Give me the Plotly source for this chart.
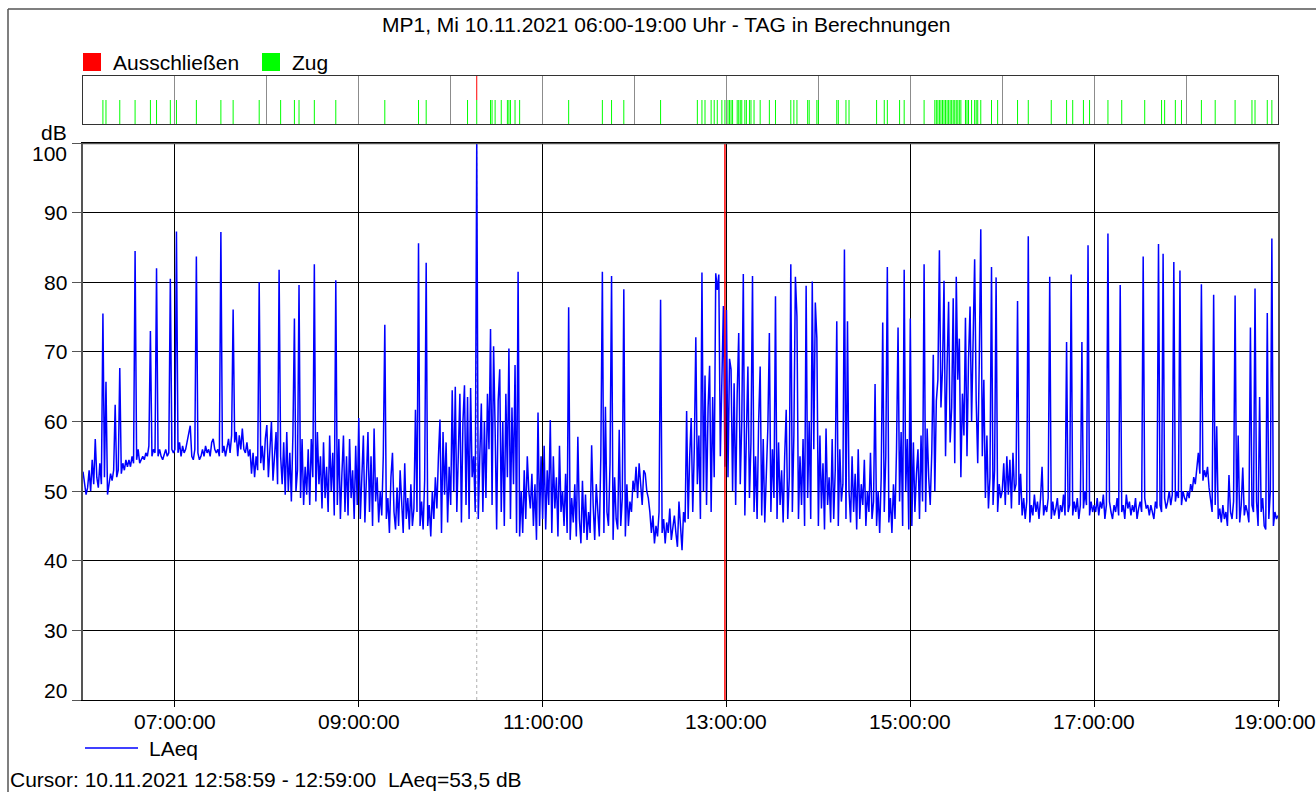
import pandas as pd
import plotly.graph_objects as go

FONT = "Liberation Sans, Arial, sans-serif"
title_text = "MP1, Mi 10.11.2021 06:00-19:00 Uhr - TAG in Berechnungen"
cursor_text = "Cursor: 10.11.2021 12:58:59 - 12:59:00  LAeq=53,5 dB"
start = "2021-11-10 06:00"
end = "2021-11-10 19:00"

# LAeq per minute, one list per hour (dB)
h06 = [52.8, 51, 49.5, 50.5, 53, 50, 54.5, 51, 57.5, 52,
       50.5, 54, 51, 75.5, 52, 65.7, 49.5, 51, 52.5, 51.5,
       53, 62.4, 52, 53, 67.7, 52.5, 54, 53, 54.5, 53.5,
       54.5, 53.5, 55, 54, 84.5, 54.5, 56, 54, 54.5, 55,
       54.5, 55.5, 55, 56.5, 73, 55, 56, 55.5, 82, 55,
       56, 55, 54.5, 55.5, 56, 55, 55.5, 80.5, 56, 55.5]
h07 = [56, 87.3, 55.5, 57, 55, 56.5, 55.5, 56, 57, 58,
       59.4, 55, 54.5, 56, 83.7, 55.5, 54.5, 55, 56, 55,
       56.5, 55.5, 56, 55, 57, 57.5, 56, 55.5, 56, 55,
       87.2, 55.5, 56.5, 55, 56, 57.5, 55.5, 58, 76.1, 57,
       58.5, 55, 58, 56, 59, 56, 55.5, 57, 55, 56,
       52.5, 55.5, 52, 55, 53, 80, 54, 56.5, 53, 57.5]
h08 = [59.5, 52, 56, 60, 51.5, 55, 58.5, 51, 81.8, 55,
       51, 57, 49.5, 58.5, 50, 55.5, 48.5, 58, 74.8, 50,
       53, 79.6, 49, 57.5, 48, 53.5, 49.5, 56, 48, 57.5,
       52, 82.6, 48.5, 58.5, 51, 55, 47.5, 57, 49, 53.5,
       47, 58, 50, 55.5, 46.5, 80.3, 48, 57.5, 46, 52.5,
       58, 47, 55, 46.5, 57.5, 49, 53, 46, 56.5, 48]
h09 = [60.5, 46, 53, 58, 45.5, 51, 58.5, 47, 55, 45,
       59, 48.5, 52, 45.5, 50, 46.5, 55, 73.9, 46, 49,
       44, 52, 55.5, 47, 44.5, 50.5, 45, 53, 48, 44,
       54, 46, 49, 44.5, 51, 45, 47.5, 61.7, 47, 85.6,
       45, 48.5, 44.5, 51.5, 82.8, 45, 48, 43.5, 50, 46,
       52, 47.5, 55, 60.3, 44, 58.5, 49.5, 57, 45.5, 53.5]
h10 = [48, 64.5, 50, 65, 47, 58, 64, 45.5, 60, 65.2,
       48, 63.5, 46, 64.8, 52, 55, 47, 100, 46, 55,
       62.6, 47, 60, 49, 64, 56, 73.3, 48, 70.8, 59,
       44.5, 63, 67.5, 47, 60, 45, 64, 52, 70.5, 46,
       62, 51, 68.1, 44, 81.5, 43.5, 50, 44, 53, 46,
       55, 50, 47.5, 52.5, 45, 51, 43, 61.3, 45, 55]
h11 = [46, 56.5, 44.5, 53, 48, 60.2, 44, 55, 47.5, 52,
       43.5, 56.5, 47, 50, 45, 52.5, 44, 76.4, 43, 49,
       45.5, 51, 43.5, 57.8, 46, 42.5, 51.5, 44, 49.5, 43,
       47, 44, 56.6, 48, 43, 51, 47, 43.5, 55, 81.5,
       44, 62.1, 47, 45, 54, 80.9, 43, 52, 46, 44.5,
       58.8, 45, 49, 79, 43.5, 51, 45, 48.5, 47, 51.5]
h12 = [50, 53.5, 49, 54, 51, 48, 53, 52.5, 50, 49,
       47, 44, 46.5, 42.5, 45, 43.5, 47, 77.5, 44, 46,
       42.5, 45.5, 44, 47.5, 43, 45, 46.5, 44, 42, 48.5,
       45, 41.5, 47, 45.5, 61.5, 46, 55, 60.5, 47, 56,
       72.1, 51, 58, 46, 81.4, 50, 66.6, 48, 62, 68,
       47, 63.5, 52, 81.3, 78.9, 81.1, 55, 65, 76.6, 53.5]
h13 = [76, 52, 69, 67.5, 50, 65.5, 48, 64, 72.7, 51,
       60, 81.2, 46.5, 58, 67.9, 49, 57, 80.9, 47, 55,
       46, 60, 67.9, 46.5, 57.5, 45.5, 54, 59, 72.7, 47,
       56, 49, 78, 46, 57, 48, 53, 45.5, 55, 61.7,
       46, 52, 82.6, 47, 58, 80.8, 75.1, 46, 55, 48,
       57.5, 45, 79.5, 49, 60, 46, 80.1, 56, 77.1, 72]
h14 = [45, 58, 47.5, 54, 44.5, 59, 48, 52, 45.5, 57.5,
       46, 53, 74.4, 45, 56, 48.5, 51, 84.7, 46, 74.4,
       50, 45.5, 55, 47, 52.5, 44.5, 56, 46, 51, 48,
       54.5, 45, 50, 47, 55.5, 46, 48.5, 65.4, 45, 50,
       44, 52, 74.2, 47, 55, 82.2, 45.5, 49, 44, 51,
       46, 56, 73.5, 48.5, 58.5, 45, 81.8, 50, 57.5, 44.5]
h15 = [74.8, 45, 57, 47, 52.5, 56, 46, 58, 48.5, 82.6,
       47, 59, 52, 48, 55.5, 69.6, 50, 63, 66, 84.6,
       62, 67.5, 80.2, 55, 68, 77.2, 57, 62, 77.7, 54,
       80.8, 66, 71.9, 52, 64, 58, 74.9, 55, 69, 76.5,
       60, 72.9, 83.3, 63, 54, 68.5, 87.6, 55, 66, 49,
       58, 47.5, 52, 82.2, 48, 53, 80.7, 47, 51, 49]
h16 = [50, 54, 48, 55, 49.5, 54.5, 47.5, 55.5, 50, 51,
       77.3, 48, 52.5, 46.5, 49, 46, 48.5, 86.6, 45.5, 48,
       46.5, 49.5, 47, 48.5, 46, 49, 53.5, 46.5, 48, 47,
       49, 80.8, 46, 48.5, 46.5, 47.5, 49, 46, 48, 47,
       49.5, 46.5, 71.4, 47, 48, 81.1, 46.5, 48.5, 47, 49,
       46, 48, 71.4, 47.5, 50, 48, 85.3, 46.5, 48.5, 47]
h17 = [48, 47, 49, 46.5, 48.5, 47.5, 49.5, 46, 48, 87,
       48.5, 47, 46, 48, 47, 49, 46.5, 79.6, 47, 48,
       46, 49.5, 47.5, 48.5, 46.5, 48, 47, 49, 46, 47.5,
       48.5, 47, 83.7, 49, 47.5, 48, 46.5, 48, 47, 46,
       48.5, 47.5, 85.5, 48, 47, 84.1, 49, 47.5, 48.5, 50,
       48, 49.5, 82.9, 48.5, 50, 49, 81.7, 48, 50, 49]
h18 = [48.5, 50, 49, 51, 50, 52, 51, 53, 55.5, 52.5,
       79.7, 51.5, 53, 52, 53.5, 50.5, 49, 47, 78.2, 48,
       59.3, 46, 47.5, 45.5, 48, 46, 47, 45, 52.3, 47,
       46, 48.5, 78.1, 46, 58, 45.5, 48, 53.4, 46.5, 48,
       47, 45.5, 73.5, 48, 47, 79.1, 48.5, 45, 63.5, 47,
       49, 45, 44.5, 75.6, 46, 50, 86.3, 45, 47, 46]
h19 = [46.5]

# Events (minutes after 06:00)
zug_minutes = [13, 15, 24, 34, 44, 48, 57, 61, 74, 90, 98, 115, 129, 138, 141, 151, 165,
               197, 219, 224, 251, 257, 266, 267, 269, 273, 277, 278, 279, 282, 285, 317,
               339, 345, 353, 377, 401, 404, 406, 410, 412, 414, 417, 419, 421, 422, 423,
               424, 427, 428, 429, 430, 432, 433, 435, 436, 438, 442, 448, 452, 462, 464,
               466, 473, 474, 479, 480, 492, 493, 498, 500, 518, 523, 525, 533, 536, 549,
               556, 557, 558, 559, 560, 561, 562, 563, 564, 565, 566, 567, 568, 569, 570,
               571, 572, 573, 576, 577, 578, 580, 582, 583, 584, 586, 593, 597, 610, 617,
               632, 642, 646, 653, 657, 669, 678, 693, 704, 706, 713, 717, 730, 739, 752,
               763, 765, 773, 776]
excluded_minutes = [257]
cursor_minute = 419
y_ticks = [20, 30, 40, 50, 60, 70, 80, 90, 100]
x_tick_times = ["2021-11-10 07:00", "2021-11-10 09:00", "2021-11-10 11:00",
                "2021-11-10 13:00", "2021-11-10 15:00", "2021-11-10 17:00",
                "2021-11-10 19:00"]
x_tick_labels = ["07:00:00", "09:00:00", "11:00:00", "13:00:00", "15:00:00",
                 "17:00:00", "19:00:00"]

laeq = h06 + h07 + h08 + h09 + h10 + h11 + h12 + h13 + h14 + h15 + h16 + h17 + h18 + h19
t0 = pd.Timestamp(start)
times = pd.date_range(start, periods=len(laeq), freq="min")


def marks(mins, y0, y1):
    xs, ys = [], []
    for m in mins:
        t = t0 + pd.Timedelta(minutes=m)
        xs += [t, t, None]
        ys += [y0, y1, None]
    return xs, ys


fig = go.Figure()
fig.add_trace(go.Scatter(x=times, y=laeq, mode="lines", xaxis="x", yaxis="y",
                         line=dict(color="#0000FF", width=1.5), showlegend=False,
                         hoverinfo="skip"))
zx, zy = marks(zug_minutes, 0, 1)
fig.add_trace(go.Scatter(x=zx, y=zy, mode="lines", xaxis="x2", yaxis="y2",
                         line=dict(color="#00FF00", width=1), showlegend=False,
                         hoverinfo="skip"))
rx, ry = marks(excluded_minutes, 1, 2)
fig.add_trace(go.Scatter(x=rx, y=ry, mode="lines", xaxis="x2", yaxis="y2",
                         line=dict(color="#FF0000", width=1), showlegend=False,
                         hoverinfo="skip"))

L, R, T, B = 83, 38, 76, 92
W, H = 1316, 792
pw, ph = W - L - R, H - T - B


def px(xp):
    return (xp - L) / pw


def py(yp):
    return (H - B - yp) / ph


main_top = py(143)
strip_bot = py(124)

fig.update_layout(
    width=W, height=H, margin=dict(l=L, r=R, t=T, b=B, autoexpand=False),
    paper_bgcolor="white", plot_bgcolor="white",
    font=dict(family=FONT, size=21, color="black"),
    xaxis=dict(domain=[0, 1], anchor="y", type="date", range=[start, end],
               tickvals=x_tick_times, showticklabels=False,
               showgrid=True, gridcolor="black", gridwidth=1,
               ticks="outside", ticklen=6, tickcolor="black",
               showline=True, linecolor="black", linewidth=1, mirror=True,
               zeroline=False, automargin=False),
    yaxis=dict(domain=[0, main_top], anchor="x", range=[20, 100], tickvals=y_ticks,
               showticklabels=False, ticks="outside", ticklen=9, tickcolor="#555",
               showgrid=True, gridcolor="black", gridwidth=1,
               showline=True, linecolor="#555", linewidth=1.5, mirror=True,
               zeroline=False, automargin=False),
    xaxis2=dict(domain=[0, 1], anchor="y2", type="date", range=[start, end],
                tick0=start, dtick=3600000, showticklabels=False, ticks="",
                showgrid=True, gridcolor="#8c8c8c", gridwidth=1,
                showline=True, linecolor="#333", linewidth=1, mirror=True,
                zeroline=False, automargin=False),
    yaxis2=dict(domain=[strip_bot, 1], anchor="x2", range=[0, 2],
                showticklabels=False, showgrid=False, ticks="",
                showline=True, linecolor="#333", linewidth=1, mirror=True,
                zeroline=False, automargin=False),
)

ann = []
ann.append(dict(text=title_text, x=px(666), y=py(24), xref="paper", yref="paper",
                xanchor="center", yanchor="middle", showarrow=False,
                font=dict(size=21)))
ann.append(dict(text="Ausschließen", x=px(111), y=py(62), xref="paper", yref="paper",
                xanchor="left", yanchor="middle", showarrow=False, font=dict(size=21)))
ann.append(dict(text="Zug", x=px(290), y=py(62), xref="paper", yref="paper",
                xanchor="left", yanchor="middle", showarrow=False, font=dict(size=21)))
ann.append(dict(text="dB", x=px(69), y=py(132), xref="paper", yref="paper",
                xanchor="right", yanchor="middle", showarrow=False, font=dict(size=21)))
for v in y_ticks:
    shift = -11 if v == y_ticks[-1] else (10 if v == y_ticks[0] else 0)
    ann.append(dict(text=str(v), x=0, y=v, xref="paper", yref="y",
                    xanchor="right", yanchor="middle", xshift=-14, yshift=shift,
                    showarrow=False, font=dict(size=21)))
for tv, tl in zip(x_tick_times, x_tick_labels):
    shift = -3 if tv == x_tick_times[-1] else 0
    ann.append(dict(text=tl, x=tv, y=py(721), xref="x", yref="paper",
                    xanchor="center", yanchor="middle", xshift=shift,
                    showarrow=False, font=dict(size=21)))
ann.append(dict(text="LAeq", x=px(147), y=py(748), xref="paper", yref="paper",
                xanchor="left", yanchor="middle", showarrow=False, font=dict(size=21)))
ann.append(dict(text=cursor_text, x=px(8), y=py(779), xref="paper", yref="paper",
                xanchor="left", yanchor="middle", showarrow=False, font=dict(size=21)))
fig.update_layout(annotations=ann)

cursor_t = t0 + pd.Timedelta(minutes=cursor_minute)
excl_t = t0 + pd.Timedelta(minutes=excluded_minutes[0])
shapes = [
    # outer frame
    dict(type="line", xref="paper", yref="paper", x0=px(8), x1=px(1316), y0=py(9), y1=py(9),
         line=dict(color="#555", width=1.5)),
    dict(type="line", xref="paper", yref="paper", x0=px(8), x1=px(8), y0=py(9), y1=py(800),
         line=dict(color="#555", width=1.5)),
    # legend squares
    dict(type="rect", xref="paper", yref="paper", x0=px(83), x1=px(101), y0=py(71), y1=py(53),
         fillcolor="#FF0000", line=dict(width=0)),
    dict(type="rect", xref="paper", yref="paper", x0=px(262), x1=px(280), y0=py(71), y1=py(53),
         fillcolor="#00FF00", line=dict(width=0)),
    # LAeq legend line
    dict(type="line", xref="paper", yref="paper", x0=px(85), x1=px(138), y0=py(748), y1=py(748),
         line=dict(color="#0000FF", width=1.4)),
    # excluded marker (dotted) and cursor
    dict(type="line", xref="x", yref="y", x0=excl_t, x1=excl_t, y0=20, y1=100,
         line=dict(color="#b0b0b0", width=1, dash="dot"), layer="below"),
    dict(type="line", xref="x", yref="y", x0=cursor_t, x1=cursor_t, y0=20, y1=100,
         line=dict(color="#FF0000", width=1.5)),
    # thicker top border of main plot
    dict(type="line", xref="paper", yref="y", x0=0, x1=1, y0=100, y1=100,
         line=dict(color="#555", width=2.5)),
]
fig.update_layout(shapes=shapes)

fig.write_html(
    "out.html",
    config={"displayModeBar": False},
    post_script="document.body.style.margin='0';document.body.style.padding='0';"
                "document.body.style.overflow='hidden';",
)
